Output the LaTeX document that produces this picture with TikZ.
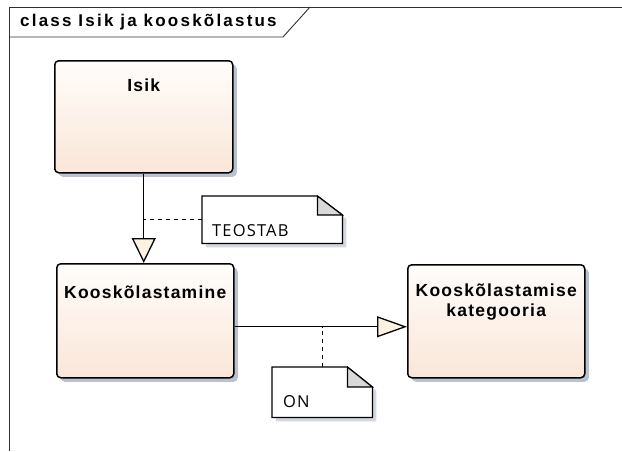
\documentclass[tikz,border=0pt]{standalone}
\usepackage{fontspec}
\setmainfont{Liberation Sans}
\newfontfamily\notefont{Open Sans}
\usetikzlibrary{arrows.meta,shadows}

\definecolor{boxtop}{HTML}{FFFDFB}
\definecolor{boxbot}{HTML}{FAE6D8}
\definecolor{boxshade}{HTML}{A9B3C4}
\definecolor{tipfill}{HTML}{FDF1E0}
\definecolor{foldgray}{HTML}{D9D9D9}
\definecolor{noteshade}{HTML}{D3D8E0}
\definecolor{framecol}{HTML}{303030}

\tikzset{
  classbox/.style={rectangle, rounded corners=4pt, draw=black, line width=1.5pt,
    top color=boxtop, bottom color=boxbot, anchor=north west, inner sep=0pt,
    drop shadow={shadow xshift=4pt, shadow yshift=-4pt, fill=boxshade, opacity=0.8}},
  classname/.style={font=\bfseries\fontsize{17.5}{20}\selectfont\addfontfeatures{LetterSpace=7},
    align=center, inner sep=0pt},
  notebox/.style={rectangle, anchor=north west, inner sep=0pt},
  notetext/.style={font=\notefont\fontsize{16.5}{19}\selectfont\addfontfeatures{LetterSpace=7},
    anchor=base west, inner sep=0pt},
  conn/.style={draw=black, line width=1.3pt},
  notelink/.style={draw=black, line width=1.3pt, dash pattern=on 4pt off 4pt},
  framestyle/.style={draw=framecol, line width=0.9pt},
}

% dog-eared note outline drawn around a named node
\newcommand{\drawnote}[3]{% node name, fold width, fold height
  \fill[noteshade] ([shift={(4pt,-4pt)}]#1.north west) -- ([shift={(4pt-#2,-4pt)}]#1.north east)
    -- ([shift={(4pt,-4pt-#3)}]#1.north east) -- ([shift={(4pt,-4pt)}]#1.south east)
    -- ([shift={(4pt,-4pt)}]#1.south west) -- cycle;
  \draw[line width=1.2pt, fill=white] (#1.north west) -- ([xshift=-#2]#1.north east)
    -- ([yshift=-#3]#1.north east) -- (#1.south east) -- (#1.south west) -- cycle;
  \draw[line width=1.2pt, fill=foldgray] ([xshift=-#2]#1.north east)
    -- ([yshift=-#3]#1.north east) -- ([shift={(-#2,-#3)}]#1.north east) -- cycle;
}

\begin{document}
\begin{tikzpicture}[x=1pt,y=-1pt]
\useasboundingbox (0,0) rectangle (622,451);

% diagram frame and its tab
\draw[framestyle] (9,451) -- (9,7) -- (622,7);
\draw[framestyle] (9,37) -- (283,37) -- (310,7);
\node[font=\bfseries\fontsize{17}{20}\selectfont\addfontfeatures{LetterSpace=13}, anchor=west, inner sep=0pt]
  (frametitle) at (20,22) {class Isik ja kooskõlastus};

% classes
\node[classbox, minimum width=178pt, minimum height=112pt] (isik) at (54,60) {};
\node[classname] (isikname) at ([yshift=-25pt]isik.north) {Isik};

\node[classbox, minimum width=177pt, minimum height=114pt] (koos) at (56,263) {};
\node[classname] (koosname) at ([yshift=-29pt]koos.north) {Kooskõlastamine};

\node[classbox, minimum width=177pt, minimum height=113pt] (kat) at (407,264) {};
\node[classname] (katname) at ([yshift=-38pt]kat.north) {Kooskõlastamise\\kategooria};

% notes
\node[notebox, minimum width=140pt, minimum height=47pt] (teostab) at (202,196) {};
\drawnote{teostab}{25pt}{19pt}
\node[notetext] (teostabtext) at ([shift={(10pt,7pt)}]teostab.south west) {TEOSTAB};

\node[notebox, minimum width=100pt, minimum height=50pt] (on) at (272,367) {};
\drawnote{on}{25pt}{20pt}
\node[notetext] (ontext) at ([shift={(11pt,10pt)}]on.south west) {ON};

% generalisations
\draw[conn, -{Triangle[length=25pt, width=24pt, fill=tipfill]}]
  (isik.south) -- (isik.south |- koos.north);
\coordinate (hstart) at ([yshift=-6pt]koos.east);
\coordinate (hend) at (hstart -| kat.west);
\draw[conn, -{Triangle[length=30pt, width=21pt, fill=tipfill]}] (hstart) -- (hend);

% note links
\draw[notelink] (teostab.west) -- (teostab.west -| isik.south);
\coordinate (onjoin) at (hstart -| on.north);
\draw[notelink] (on.north) -- (onjoin);
\end{tikzpicture}
\end{document}
